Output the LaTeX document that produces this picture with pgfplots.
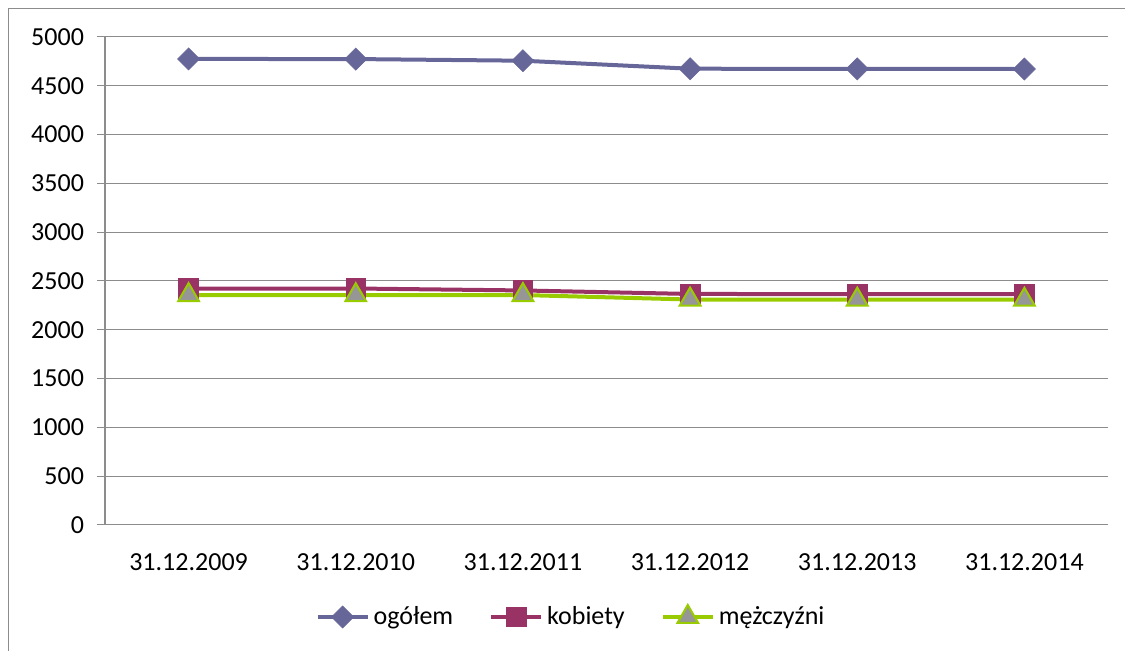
\documentclass[border=0pt]{standalone}
\usepackage{pgfplots}
\pgfplotsset{compat=1.18}
\usepackage{fontspec}
\setmainfont{Carlito}
\definecolor{cOg}{HTML}{666699}
\definecolor{cKob}{HTML}{993366}
\definecolor{cMez}{HTML}{99CC00}
\definecolor{cMezFill}{HTML}{969696}
\definecolor{cGrid}{HTML}{8C8C8C}
\begin{document}
\begin{tikzpicture}
\useasboundingbox (0pt,0pt) rectangle (562.5pt,325.5pt);
\clip (0pt,0pt) rectangle (562.5pt,325.5pt);
\draw[cGrid, line width=0.6pt] (4.25pt,-10pt) rectangle (580pt,321.25pt);
\begin{axis}[
  at={(52.5pt,63pt)}, anchor=south west,
  scale only axis, width=501.5pt, height=244pt,
  xmin=-0.5, xmax=5.5, ymin=0, ymax=5000,
  xtick={0,...,5},
  xticklabels={31.12.2009,31.12.2010,31.12.2011,31.12.2012,31.12.2013,31.12.2014},
  minor xtick={-0.5,0.5,1.5,2.5,3.5,4.5,5.5},
  ytick={0,500,...,5000},
  ymajorgrids, major grid style={cGrid, line width=0.5pt},
  axis line style={cGrid, line width=0.5pt},
  axis x line*=bottom, axis y line*=left,
  tick align=outside,
  tick style={cGrid, line width=0.5pt},
  xtick style={draw=none},
  minor x tick style={cGrid, line width=0.5pt},
  minor tick length=5pt,
  major tick length=4pt,
  ticklabel style={font=\fontsize{13pt}{15pt}\selectfont, text=black},
  xticklabel style={yshift=-7pt},
  yticklabel style={xshift=-3pt},
  /pgf/number format/.cd, 1000 sep={}, assume math mode=true, /pgfplots/.cd,
  legend style={at={(axis description cs:0.4656,-0.1885)}, anchor=center, draw=none,
    font=\fontsize{13pt}{15pt}\selectfont, legend columns=3,
    /tikz/every even column/.append style={column sep=16pt}},
  legend cell align=left,
  legend image code/.code={\draw[mark repeat=2,mark phase=2] plot coordinates {(0pt,0pt) (12.5pt,0pt) (25pt,0pt)};},
  clip=false,
]
\addplot[cOg, line width=2pt, mark=square*, mark size=3.9pt, mark options={rotate=45, fill=cOg, draw=cOg, line width=0.3pt}]
  coordinates {(0,4775) (1,4774) (2,4757) (3,4675) (4,4673) (5,4672)};
\addlegendentry{ogółem}
\addplot[cKob, line width=2pt, mark=square*, mark size=4.9pt, mark options={fill=cKob, draw=cKob, line width=0.3pt}]
  coordinates {(0,2423) (1,2423) (2,2403) (3,2367) (4,2366) (5,2365)};
\addlegendentry{kobiety}
\addplot[cMez, line width=2pt, mark=triangle*, mark size=6pt, mark options={fill=cMezFill, draw=cMez, line width=1pt}]
  coordinates {(0,2355) (1,2354) (2,2356) (3,2310) (4,2309) (5,2308)};
\addlegendentry{mężczyźni}
\end{axis}
\end{tikzpicture}
\end{document}
